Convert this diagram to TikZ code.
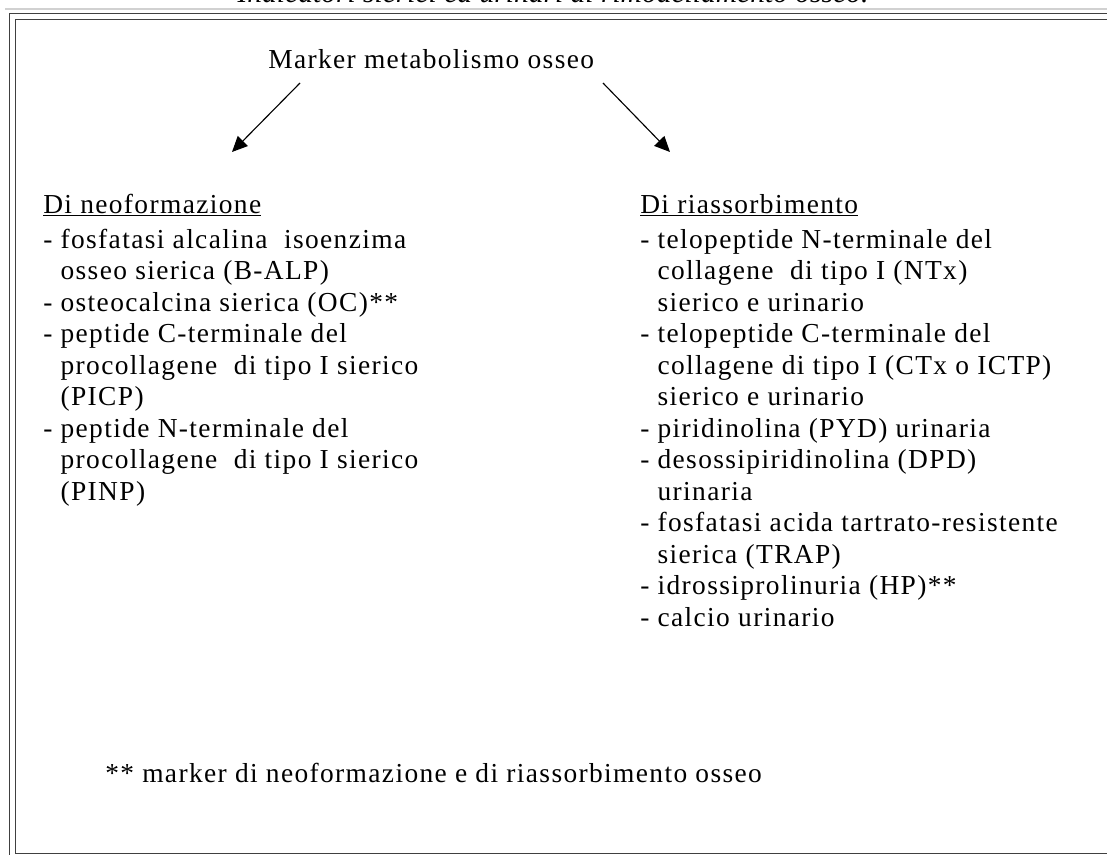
\documentclass[tikz,border=0pt]{standalone}
\usepackage{fontspec}
\setmainfont{Liberation Serif}
\newfontfamily\markfont[LetterSpace=5]{Liberation Serif}
\usetikzlibrary{%
  arrows.meta,%
  positioning%
}
\definecolor{framegray}{gray}{0.25}
\definecolor{rulegray}{gray}{0.82}
\newcommand\cont{\hphantom{- }}

\begin{document}
\begin{tikzpicture}[x=0.025cm,y=-0.025cm,
  marktext/.style={font=\markfont\fontsize{19.5}{22.4}\selectfont,inner sep=0pt,align=left},
  markarrow/.style={-{Triangle[length=11pt,width=10pt]},line width=0.8pt},
  frameline/.style={draw=framegray,line width=1.4pt}]

  %% page
  \path[use as bounding box,clip] (0,0) rectangle (1107,855);
  \fill[white] (0,0) rectangle (1107,855);

  %% cut caption and rule
  \node[font=\itshape\fontsize{21}{22}\selectfont,anchor=base] (caption) at (553,3)
  {Indicatori sierici ed urinari di rimodellamento osseo.};
  \draw[rulegray,line width=1pt] (5,9) -- (1110,9);

  %%%%%%%%%%%%%%%%
  % double frame
  \draw[frameline] (9.5,870) -- (9.5,13.5) -- (1120,13.5);
  \draw[frameline] (15.5,853.5) -- (15.5,19.5) -- (1120,19.5);
  \draw[frameline] (15.5,853.5) -- (1120,853.5);

  %% title
  \node[marktext,anchor=base west] (title) at (268,68) {Marker metabolismo osseo};

  %% arrows
  \coordinate (neotip) at (232,152);
  \coordinate (riatip) at (670,152);
  \draw[markarrow] ([shift={(32,15)}]title.base west) -- (neotip);
  \draw[markarrow] ([shift={(335,15)}]title.base west) -- (riatip);

  %%%%%%%%%%%%%%%%
  % neoformazione (base = last line)
  \node[marktext,anchor=base west] (neohead) at (43,213) {\underline{Di neoformazione}};
  \node[marktext,anchor=base west] (neolist) at (43,500) {%
    - fosfatasi alcalina\ \ isoenzima\\
    \cont osseo sierica (B-ALP)\\
    - osteocalcina sierica (OC)**\\
    - peptide C-terminale del\\
    \cont procollagene\ \ di tipo I sierico\\
    \cont (PICP)\\
    - peptide N-terminale del\\
    \cont procollagene\ \ di tipo I sierico\\
    \cont (PINP)};

  %%%%%%%%%%%%%%%%
  % riassorbimento
  \node[marktext,anchor=base west] (riahead) at (640,213) {\underline{Di riassorbimento}};
  \node[marktext,anchor=base west] (rialist) at (640,626) {%
    - telopeptide N-terminale del\\
    \cont collagene\ \ di tipo I (NTx)\\
    \cont sierico e urinario\\
    - telopeptide C-terminale del\\
    \cont collagene di tipo I (CTx o ICTP)\\
    \cont sierico e urinario\\
    - piridinolina (PYD) urinaria\\
    - desossipiridinolina (DPD)\\
    \cont urinaria\\
    - fosfatasi acida tartrato-resistente\\
    \cont sierica (TRAP)\\
    - idrossiprolinuria (HP)**\\
    - calcio urinario};

  %% footnote
  \node[marktext,anchor=base west] (note) at (105,782)
  {** marker di neoformazione e di riassorbimento osseo};

\end{tikzpicture}
\end{document}
